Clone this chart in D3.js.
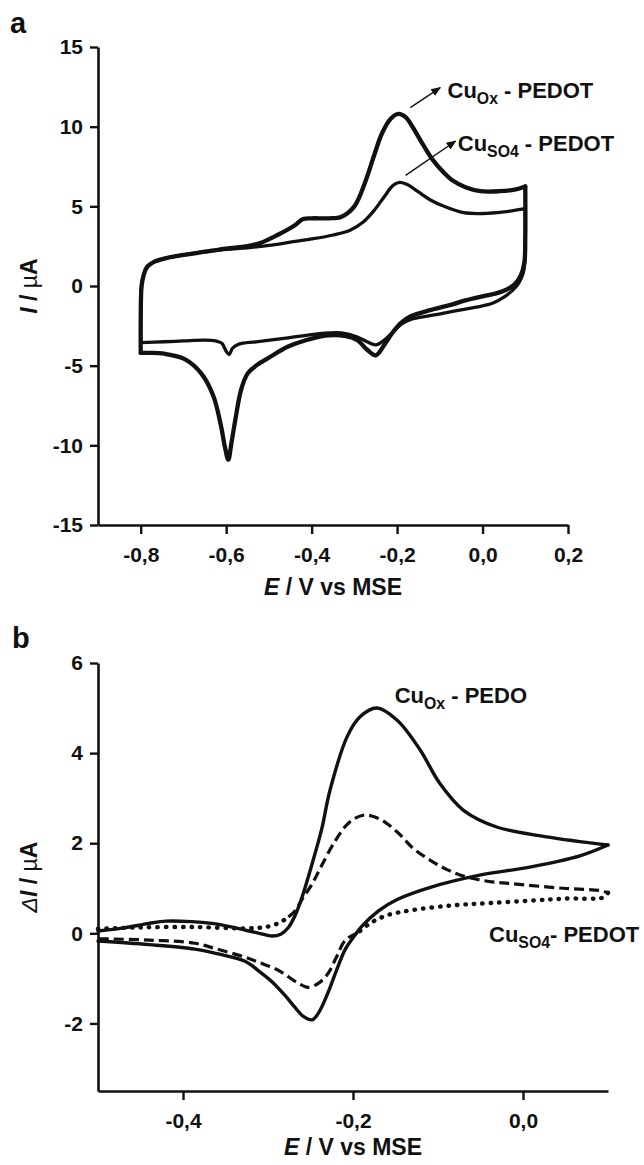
<!DOCTYPE html>
<html>
<head>
<meta charset="utf-8">
<script src="https://cdn.jsdelivr.net/npm/d3@7"></script>
<style>
  body { margin: 0; background: #fff; }
  svg { display: block; font-family: "Liberation Sans", Arial, sans-serif; }
</style>
</head>
<body>
<script>
// ---- panel a : cyclic voltammograms, [E (V vs MSE), I (µA)] ----
const oxAnodic = [[-0.8, -4.2], [-0.8, -2], [-0.798, 0], [-0.793, 0.7], [-0.785, 1.2], [-0.77, 1.5], [-0.74, 1.75],
  [-0.7, 1.95], [-0.65, 2.15], [-0.6, 2.35], [-0.55, 2.5], [-0.52, 2.7], [-0.48, 3.2], [-0.44, 3.8], [-0.42, 4.2],
  [-0.4, 4.25], [-0.36, 4.25], [-0.33, 4.35], [-0.3, 5.0], [-0.275, 6.5], [-0.255, 8.1], [-0.235, 9.6], [-0.215, 10.5],
  [-0.197, 10.8], [-0.18, 10.6], [-0.163, 9.95], [-0.14, 8.9], [-0.116, 7.9], [-0.09, 7.1], [-0.069, 6.6],
  [-0.04, 6.2], [-0.005, 5.95], [0.04, 5.95], [0.075, 6.05], [0.1, 6.25]];
const oxCathodic = [[0.1, 6.25], [0.1, 3.0], [0.098, 1.5], [0.09, 0.7], [0.075, 0.1], [0.05, -0.3], [0.026, -0.5],
  [0.0, -0.65], [-0.04, -0.9], [-0.07, -1.15], [-0.12, -1.5], [-0.168, -1.9], [-0.19, -2.3], [-0.21, -2.9],
  [-0.23, -3.7], [-0.25, -4.35], [-0.27, -4.0], [-0.293, -3.4], [-0.32, -3.15], [-0.36, -3.1], [-0.4, -3.3],
  [-0.455, -3.8], [-0.5, -4.5], [-0.53, -5.0], [-0.55, -5.5], [-0.565, -6.5], [-0.578, -8.3], [-0.588, -9.9],
  [-0.595, -10.9], [-0.603, -10.1], [-0.612, -8.8], [-0.63, -6.9], [-0.658, -5.5], [-0.696, -4.6], [-0.745, -4.25],
  [-0.78, -4.2], [-0.8, -4.2]];
const so4Anodic = [[-0.8, -3.55], [-0.8, -2], [-0.798, 0], [-0.793, 0.7], [-0.785, 1.2], [-0.77, 1.5], [-0.74, 1.75],
  [-0.7, 1.95], [-0.65, 2.15], [-0.6, 2.3], [-0.55, 2.4], [-0.5, 2.55], [-0.45, 2.75], [-0.4, 2.95], [-0.35, 3.2],
  [-0.31, 3.5], [-0.28, 4.0], [-0.255, 4.7], [-0.23, 5.6], [-0.21, 6.3], [-0.194, 6.5], [-0.175, 6.35], [-0.15, 5.9],
  [-0.122, 5.4], [-0.09, 5.0], [-0.044, 4.6], [0.0, 4.55], [0.05, 4.65], [0.1, 4.85]];
const so4Cathodic = [[0.1, 4.85], [0.1, 3.0], [0.099, 1.5], [0.095, 0.8], [0.085, 0.2], [0.073, -0.2], [0.05, -0.7],
  [0.026, -1.05], [0.0, -1.25], [-0.04, -1.45], [-0.07, -1.6], [-0.12, -1.85], [-0.168, -2.1], [-0.19, -2.4],
  [-0.21, -2.9], [-0.23, -3.4], [-0.25, -3.7], [-0.27, -3.5], [-0.293, -3.2], [-0.33, -2.95], [-0.36, -2.95],
  [-0.4, -3.05], [-0.455, -3.25], [-0.53, -3.5], [-0.57, -3.65], [-0.585, -3.9], [-0.593, -4.3], [-0.6, -4.1],
  [-0.61, -3.6], [-0.625, -3.45], [-0.65, -3.4], [-0.7, -3.45], [-0.745, -3.5], [-0.8, -3.55]];

const aXTicks = [-0.8, -0.6, -0.4, -0.2, 0.0, 0.2];
const aXMinor = [-0.9, -0.7, -0.5, -0.3, -0.1, 0.1];
const aYTicks = [-15, -10, -5, 0, 5, 10, 15];
const aYMinor = [-12.5, -7.5, -2.5, 2.5, 7.5, 12.5];

// ---- panel b : difference voltammograms, [E, ΔI (µA)] ----
const oxUpper = [[-0.5, 0.05], [-0.47, 0.12], [-0.44, 0.22], [-0.42, 0.27], [-0.39, 0.26], [-0.366, 0.22],
  [-0.345, 0.15], [-0.327, 0.07], [-0.31, 0.0], [-0.295, -0.06], [-0.285, -0.02], [-0.276, 0.13], [-0.268, 0.4],
  [-0.26, 0.8], [-0.248, 1.55], [-0.237, 2.3], [-0.227, 3.18], [-0.207, 4.36], [-0.192, 4.8], [-0.172, 5.0],
  [-0.148, 4.73], [-0.121, 4.07], [-0.098, 3.33], [-0.07, 2.73], [-0.031, 2.36], [0.028, 2.14], [0.1, 1.96]];
const oxLower = [[0.1, 1.96], [0.067, 1.72], [0.008, 1.47], [-0.051, 1.29], [-0.109, 1.02], [-0.148, 0.75],
  [-0.17, 0.5], [-0.19, 0.15], [-0.2, -0.1], [-0.209, -0.35], [-0.22, -0.85], [-0.229, -1.3], [-0.24, -1.75],
  [-0.248, -1.92], [-0.258, -1.85], [-0.268, -1.65], [-0.28, -1.38], [-0.295, -1.08], [-0.31, -0.85],
  [-0.327, -0.62], [-0.36, -0.45], [-0.386, -0.35], [-0.44, -0.25], [-0.5, -0.17]];
const so4UpperDot = [[-0.5, 0.1], [-0.45, 0.13], [-0.386, 0.14], [-0.327, 0.11], [-0.3, 0.15], [-0.285, 0.25],
  [-0.276, 0.36]];
const so4UpperDash = [[-0.276, 0.36], [-0.268, 0.5], [-0.26, 0.75], [-0.248, 1.1], [-0.237, 1.5], [-0.221, 2.05],
  [-0.205, 2.45], [-0.188, 2.62], [-0.17, 2.55], [-0.148, 2.25], [-0.13, 1.9], [-0.109, 1.62], [-0.09, 1.42],
  [-0.07, 1.27], [-0.04, 1.15], [-0.012, 1.1], [0.047, 1.0], [0.09, 0.95], [0.1, 0.9]];
const so4LowerDot = [[0.1, 0.9], [0.095, 0.8], [0.05, 0.77], [0.013, 0.73], [-0.04, 0.67], [-0.083, 0.62],
  [-0.132, 0.51], [-0.16, 0.4], [-0.18, 0.22], [-0.195, 0.0]];
const so4LowerDash = [[-0.195, 0.0], [-0.209, -0.15], [-0.22, -0.55], [-0.229, -0.88], [-0.24, -1.1],
  [-0.253, -1.2], [-0.265, -1.1], [-0.288, -0.82], [-0.31, -0.65], [-0.327, -0.53], [-0.36, -0.35],
  [-0.386, -0.22], [-0.44, -0.15], [-0.5, -0.12]];

const bXTicks = [-0.4, -0.2, 0.0];
const bXMinor = [-0.5, -0.3, -0.1, 0.1];
const bYTicks = [-2, 0, 2, 4, 6];
const bYMinor = [-3, -1, 1, 3, 5];

// annotation anchors in data units
const aLabelOx = [-0.082, 11.8], aLabelSO4 = [-0.058, 8.5];
const aArrowOx = [[-0.169, 11.2], [-0.099, 12.45]];
const aArrowSO4 = [[-0.18, 6.94], [-0.063, 9.1]];
const bLabelOx = [-0.151, 5.11], bLabelSO4 = [-0.04, -0.2];

const width = 644, height = 1165;
const ink = "#111";

const svg = d3.select("body").append("svg")
    .attr("width", width)
    .attr("height", height);

svg.append("defs").append("marker")
    .attr("id", "arrow")
    .attr("viewBox", "0 0 10 10")
    .attr("refX", 9).attr("refY", 5)
    .attr("markerWidth", 10).attr("markerHeight", 10)
    .attr("markerUnits", "userSpaceOnUse")
    .attr("orient", "auto")
    .append("path")
    .attr("d", "M0,1 L10,5 L0,9 Z")
    .attr("fill", ink);

// tick labels use a comma as decimal mark and a plain hyphen
const commaFmt = d => (d < 0 ? "-" : "") + Math.abs(d).toFixed(1).replace(".", ",");
const intFmt = d => (d < 0 ? "-" : "") + Math.abs(d);

function drawAxes(x, y, xt, xm, yt, ym, xf, yf) {
    const y0 = y.range()[0];
    const x0 = x.range()[0];
    const gx = svg.append("g").attr("transform", `translate(0,${y0})`);
    gx.call(d3.axisBottom(x).tickValues(xm).tickFormat("").tickSize(6).tickSizeOuter(0));
    gx.call(d3.axisBottom(x).tickValues(xt).tickFormat(xf).tickSize(9).tickSizeOuter(0).tickPadding(13));

    const gy = svg.append("g").attr("transform", `translate(${x0},0)`);
    gy.call(d3.axisLeft(y).tickValues(ym).tickFormat("").tickSize(5).tickSizeOuter(0));
    gy.call(d3.axisLeft(y).tickValues(yt).tickFormat(yf).tickSize(8).tickSizeOuter(0).tickPadding(7));

    [gx, gy].forEach(g => {
        g.selectAll(".domain").attr("stroke", ink).attr("stroke-width", 2.6);
        g.selectAll(".tick line").attr("stroke", ink).attr("stroke-width", 2.4);
        g.selectAll(".tick text")
            .attr("fill", ink)
            .style("font-size", "21px")
            .style("font-weight", "bold");
    });
}

const line = (x, y) => d3.line()
    .x(d => x(d[0]))
    .y(d => y(d[1]))
    .curve(d3.curveCatmullRom.alpha(0.5));

function cuLabel(x, y, pos, sub, rest, size) {
    const t = svg.append("text")
        .attr("x", x(pos[0]))
        .attr("y", y(pos[1]))
        .attr("fill", ink)
        .style("font-size", size + "px")
        .style("font-weight", "bold");
    t.append("tspan").text("Cu");
    t.append("tspan").attr("dy", 6).style("font-size", (size * 0.72) + "px").text(sub);
    t.append("tspan").attr("dy", -6).text(rest);
}

function xTitle(cx, baseline) {
    const t = svg.append("text")
        .attr("x", cx).attr("y", baseline)
        .attr("text-anchor", "middle")
        .attr("fill", ink)
        .style("font-size", "23px")
        .style("font-weight", "bold");
    t.append("tspan").style("font-style", "italic").text("E");
    t.append("tspan").text(" / V vs MSE");
}

function yTitle(cy, xpos, delta) {
    const t = svg.append("text")
        .attr("transform", `translate(${xpos},${cy}) rotate(-90)`)
        .attr("text-anchor", "middle")
        .attr("fill", ink)
        .style("font-size", "23px")
        .style("font-weight", "bold");
    if (delta) t.append("tspan").style("font-style", "italic").style("font-weight", "normal").text("\u0394");
    t.append("tspan").style("font-style", "italic").text("I");
    t.append("tspan").text(" / ");
    t.append("tspan").style("font-weight", "normal").text("\u00b5");
    t.append("tspan").text("A");
}

// ================= panel a =================
const xA = d3.scaleLinear().domain([-0.9, 0.2]).range([98, 568]);
const yA = d3.scaleLinear().domain([-15, 15]).range([525, 47]);
drawAxes(xA, yA, aXTicks, aXMinor, aYTicks, aYMinor, commaFmt, intFmt);

const lineA = line(xA, yA);
[
    { data: so4Anodic, w: 3.3 },
    { data: so4Cathodic, w: 3.3 },
    { data: oxAnodic, w: 4.3 },
    { data: oxCathodic, w: 4.3 }
].forEach(s => {
    svg.append("path")
        .datum(s.data)
        .attr("d", lineA)
        .attr("fill", "none")
        .attr("stroke", ink)
        .attr("stroke-width", s.w)
        .attr("stroke-linejoin", "round")
        .attr("stroke-linecap", "round");
});

[aArrowOx, aArrowSO4].forEach(a => {
    svg.append("line")
        .attr("x1", xA(a[0][0])).attr("y1", yA(a[0][1]))
        .attr("x2", xA(a[1][0])).attr("y2", yA(a[1][1]))
        .attr("stroke", ink).attr("stroke-width", 1.4)
        .attr("marker-end", "url(#arrow)");
});
cuLabel(xA, yA, aLabelOx, "Ox", " - PEDOT", 22);
cuLabel(xA, yA, aLabelSO4, "SO4", " - PEDOT", 22);

xTitle((98 + 568) / 2, 595);
yTitle(286, 37, false);

svg.append("text").attr("x", 10).attr("y", 33)
    .attr("fill", ink).style("font-size", "29px").style("font-weight", "bold").text("a");

// ================= panel b =================
const xB = d3.scaleLinear().domain([-0.5, 0.1]).range([98, 608]);
const yB = d3.scaleLinear().domain([-3.5, 6]).range([1091, 663]);
drawAxes(xB, yB, bXTicks, bXMinor, bYTicks, bYMinor, commaFmt, intFmt);

const lineB = line(xB, yB);
[
    { data: so4UpperDot, w: 4.4, dash: "0.5,8", cap: "round" },
    { data: so4LowerDot, w: 4.4, dash: "0.5,8", cap: "round" },
    { data: so4UpperDash, w: 3.2, dash: "10,5", cap: "butt" },
    { data: so4LowerDash, w: 3.2, dash: "10,5", cap: "butt" },
    { data: oxUpper, w: 3.4, dash: null, cap: "round" },
    { data: oxLower, w: 3.4, dash: null, cap: "round" }
].forEach(s => {
    svg.append("path")
        .datum(s.data)
        .attr("d", lineB)
        .attr("fill", "none")
        .attr("stroke", ink)
        .attr("stroke-width", s.w)
        .attr("stroke-dasharray", s.dash)
        .attr("stroke-linejoin", "round")
        .attr("stroke-linecap", s.cap);
});

cuLabel(xB, yB, bLabelOx, "Ox", " - PEDO", 22);
cuLabel(xB, yB, bLabelSO4, "SO4", "- PEDOT", 22);

xTitle((98 + 608) / 2, 1155);
yTitle(877, 37, true);

svg.append("text").attr("x", 12).attr("y", 648)
    .attr("fill", ink).style("font-size", "29px").style("font-weight", "bold").text("b");
</script>
</body>
</html>
